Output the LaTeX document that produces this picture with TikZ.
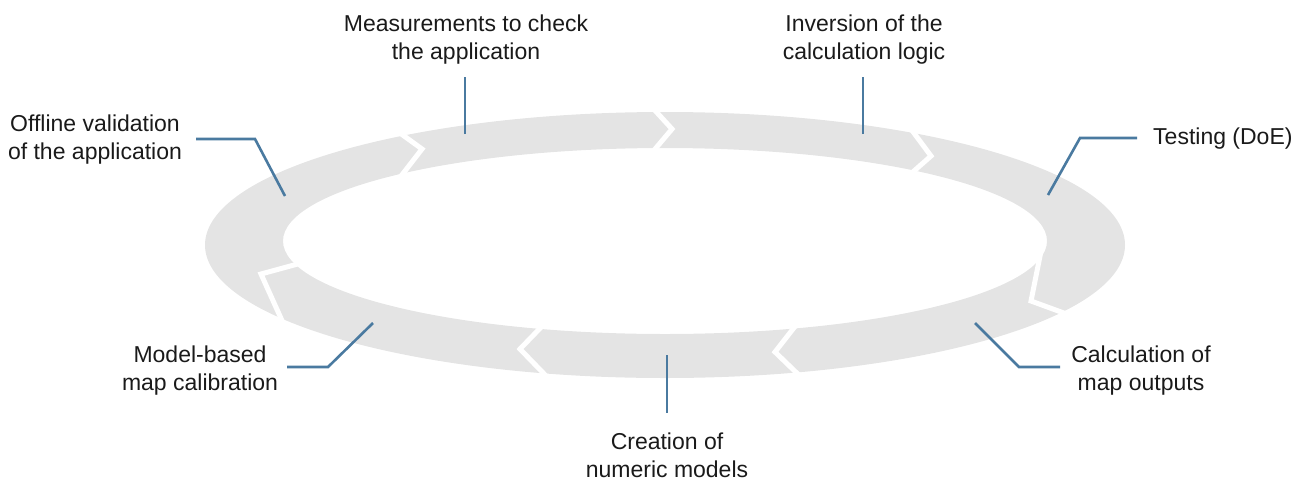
\documentclass[tikz,border=0pt]{standalone}
\usepackage{fontspec}
\setmainfont{Liberation Sans}
\definecolor{ringgray}{HTML}{E4E4E4}
\definecolor{leader}{HTML}{4A7AA0}
\definecolor{txt}{HTML}{1A1A1A}
\begin{document}
\begin{tikzpicture}[x=1pt,y=-1pt,
  lbl/.style={align=center,inner sep=0pt,text=txt,font=\fontsize{23}{28}\selectfont},
  lead/.style={draw=leader,line width=2.6pt,line join=miter},
  gap/.style={draw=white,line width=5pt,line join=miter}]
\useasboundingbox (0,0) rectangle (1297,480);
% ring
\fill[ringgray,even odd rule] (665,245) ellipse [x radius=460,y radius=133]
  (665,241) ellipse [x radius=382,y radius=93];
% chevron gaps
\coordinate (g1) at (422,149);
\coordinate (g2) at (672,129);
\coordinate (g3) at (931,156);
\coordinate (g4) at (1031,301);
\coordinate (g5) at (775,352);
\coordinate (g6) at (520,349);
\coordinate (g7) at (261,274);
\draw[gap] (393,128) -- (g1) -- (398,180);
\draw[gap] (650,105) -- (g2) -- (650,155);
\draw[gap] (908,125) -- (g3) -- (906,178);
\draw[gap] (1042,246) -- (g4) -- (1072,316);
\draw[gap] (800,320) -- (g5) -- (804,380);
\draw[gap] (548,320) -- (g6) -- (550,380);
\draw[gap] (305,262) -- (g7) -- (284,325);
% labels
\node[lbl] (off) at (95,140) {Offline validation\\of the application};
\node[lbl] (mea) at (466,40) {Measurements to check\\the application};
\node[lbl] (inv) at (864,40) {Inversion of the\\calculation logic};
\node[lbl,anchor=west] (tes) at (1153,139) {Testing (DoE)};
\node[lbl] (cal) at (1141,371) {Calculation of\\map outputs};
\node[lbl] (cre) at (667,455) {Creation of\\numeric models};
\node[lbl] (mod) at (200,371) {Model-based\\map calibration};
% leader lines
\coordinate (a1) at (285,196); \coordinate (k1) at (255,139); \coordinate (e1) at (196,139);
\draw[lead] (a1) -- (k1) -- (e1);
\coordinate (a2) at (465,134); \coordinate (e2) at (465,77);
\draw[lead] (a2) -- (e2);
\coordinate (a3) at (863,134); \coordinate (e3) at (863,77);
\draw[lead] (a3) -- (e3);
\coordinate (a4) at (1048,195); \coordinate (k4) at (1080,138); \coordinate (e4) at (1137,138);
\draw[lead] (a4) -- (k4) -- (e4);
\coordinate (a5) at (975,323); \coordinate (k5) at (1019,367); \coordinate (e5) at (1060,367);
\draw[lead] (a5) -- (k5) -- (e5);
\coordinate (a6) at (667,355); \coordinate (e6) at (667,413);
\draw[lead] (a6) -- (e6);
\coordinate (a7) at (373,323); \coordinate (k7) at (328,367); \coordinate (e7) at (287,367);
\draw[lead] (a7) -- (k7) -- (e7);
\end{tikzpicture}
\end{document}
